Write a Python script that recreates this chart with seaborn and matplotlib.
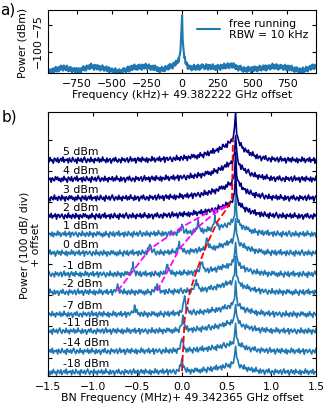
import numpy as np
import pandas as pd
import matplotlib
matplotlib.use("Agg")
import matplotlib.pyplot as plt
import seaborn as sns

# ----------------------------
# Data
# ----------------------------
# hand-read jitter pattern of the noise floor (relative units)
noise = [0.3, -0.5, 0.8, -0.2, 0.1, -0.9, 0.6, 0.2, -0.4, 0.7, -0.7, 0.0, 0.5, -0.3, 0.9, -0.6, 0.2, -0.1, 0.4, -0.8,
         0.6, -0.2, -0.5, 0.8, 0.1, -0.4, 0.3, -0.9, 0.7, 0.0, -0.3, 0.5, -0.6, 0.2, 0.9, -0.1, -0.7, 0.4, 0.1, -0.5,
         0.8, -0.3, 0.2, -0.8, 0.5, 0.0, -0.2, 0.7, -0.6, 0.3, -0.4, 0.9, -0.1, 0.1, -0.7, 0.6, -0.5, 0.2, 0.4, -0.9,
         0.0, 0.5, -0.3, 0.8, -0.2, -0.6, 0.3, 0.1, -0.8, 0.7, -0.1, 0.4, -0.5, 0.2, 0.6, -0.7, 0.0, 0.9, -0.4, 0.3,
         -0.2, 0.5, -0.9, 0.1, 0.7, -0.3, 0.4, -0.6, 0.8, -0.1, 0.2, -0.5, 0.6, -0.8, 0.3, 0.0, -0.4, 0.9, -0.2, 0.5,
         -0.7, 0.1, 0.4, -0.3, 0.8, -0.6, 0.2, -0.1, 0.7, -0.9, 0.3, 0.5, -0.4, 0.0, 0.6, -0.2, -0.8, 0.4, 0.1, -0.5,
         0.9, -0.3, 0.2, -0.7, 0.5, 0.1, -0.6, 0.8, -0.2, 0.3, -0.9, 0.4, 0.0, -0.5, 0.7, -0.1, 0.6, -0.4, 0.2, -0.8]

# slow ripple of the panel a floor, read every 100 kHz from -950 to 950 (dB)
a_hills = [-3, 1, -2, 2, 0, -3, 1, 2, -1, 3, 0, 2, 1, 3, -1, 0, 2, 1, -2, 2]

# panel a: free running spectrum
a_floor = -115.0
a_noise_amp = 3.0
a_peak_level = -63.0
a_pedestal = 22.0

# panel b: injection power sweep
labels = ["5 dBm", "4 dBm", "3 dBm", "2 dBm", "1 dBm", "0 dBm",
          "-1 dBm", "-2 dBm", "-7 dBm", "-11 dBm", "-14 dBm", "-18 dBm"]
floors = [635, 574, 513, 455, 397, 336, 268, 210, 139, 85, 20, -47]
ped_h = [75, 65, 60, 55, 45, 45, 40, 40, 35, 35, 30, 30]
spike_h = [80, 80, 80, 80, 80, 70, 70, 70, 70, 60, 60, 60]
locked = [True, True, True, True, False, False, False, False, False, False, False, False]
main_freq = 0.6
sb_x = [[], [], [], [], [0.0, 0.18, 0.37], [-0.36, -0.03, 0.28], [-0.55, -0.16, 0.22],
        [-0.72, -0.28, 0.16], [-0.53, 0.03], [0.01], [0.0], [0.0]]
sb_h = [[], [], [], [], [25, 30, 35], [30, 30, 35], [30, 30, 35],
        [20, 25, 30], [25, 60], [40], [40], [40]]

# guide lines (MHz, offset dB)
mag1_x = [-0.72, -0.55, -0.36, 0.0, 0.3, 0.5]
mag1_y = [214, 278, 349, 420, 468, 487]
mag2_x = [-0.28, -0.16, -0.03, 0.18, 0.35, 0.5]
mag2_y = [214, 278, 349, 420, 461, 487]
red_x = [0.0, 0.03, 0.09, 0.17, 0.28, 0.4, 0.5, 0.56, 0.57]
red_y = [-44, 124, 214, 285, 365, 439, 478, 510, 703]

# ----------------------------
# Style
# ----------------------------
sns.set_style("ticks")
plt.rcParams.update({
    "font.family": ["DejaVu Sans"],
    "font.size": 7.8,
    "text.color": "black",
    "axes.labelcolor": "black",
    "xtick.color": "black",
    "ytick.color": "black",
    "xtick.direction": "in",
    "ytick.direction": "in",
    "xtick.top": True,
    "ytick.right": True,
    "xtick.major.size": 3,
    "ytick.major.size": 3,
    "axes.linewidth": 0.8,
    "axes.edgecolor": "black",
})

fig = plt.figure(figsize=(3.33, 4.14), dpi=100)
ax_a = fig.add_axes([0.144, 0.821, 0.805, 0.152])
ax_b = fig.add_axes([0.144, 0.089, 0.805, 0.638])

# ----------------------------
# Panel a
# ----------------------------
fa = np.arange(-955, 956, 4.0)
na = np.resize(noise, fa.size)
hills = np.interp(fa, np.arange(-950, 951, 100.0), a_hills)
pa = (a_floor + hills + a_noise_amp * na
      + a_pedestal * np.exp(-np.abs(fa) / 18.0)
      + (a_peak_level - a_floor - a_pedestal) * np.exp(-np.abs(fa) / 5.0))
df_a = pd.DataFrame({"f": fa, "p": pa})
sns.lineplot(data=df_a, x="f", y="p", ax=ax_a, color="#1f77b4", lw=1.5,
             label="free running\nRBW = 10 kHz", estimator=None)
ax_a.set_xlim(-955, 955)
ax_a.set_ylim(-119, -62)
ax_a.set_xticks([-750, -500, -250, 0, 250, 500, 750])
ax_a.set_yticks([-100, -75])
ax_a.set_yticklabels(["\u2212100", "\u221275"], rotation=90, va="center")
ax_a.set_xlabel("Frequency (kHz)+ 49.382222 GHz offset", labelpad=1)
ax_a.set_ylabel("Power (dBm)")
ax_a.yaxis.set_label_coords(-0.075, 0.5)
ax_a.legend(loc="upper right", frameon=False, handlelength=2.2, fontsize=7.8,
            borderaxespad=0.3)

# ----------------------------
# Panel b
# ----------------------------
grid = np.round(np.arange(-1.5, 1.5001, 0.012), 4)
for i in reversed(range(len(labels))):
    fx = np.union1d(grid, np.array(sb_x[i] + [main_freq]))
    nb = np.resize(np.roll(noise, 13 * i), fx.size)
    dx = fx - main_freq
    w = np.where(dx < 0, 0.25, 0.13)
    y = (floors[i] + 11.0 * nb
         + ped_h[i] * np.exp(-np.abs(dx) / w)
         + spike_h[i] * np.exp(-np.abs(dx) / 0.01))
    for sx, sh in zip(sb_x[i], sb_h[i]):
        y = y + sh * np.exp(-np.abs(fx - sx) / 0.018)
    color = "#000080" if locked[i] else "#1f77b4"
    df_b = pd.DataFrame({"f": fx, "p": y})
    sns.lineplot(data=df_b, x="f", y="p", ax=ax_b, color=color, lw=1.2,
                 estimator=None, zorder=2)
    ax_b.text(-1.33, floors[i] + 14, labels[i], ha="left", va="bottom",
              fontsize=7.8, zorder=4)

ax_b.plot(mag1_x, mag1_y, color="magenta", ls="--", lw=1.3, zorder=3)
ax_b.plot(mag2_x, mag2_y, color="magenta", ls="--", lw=1.3, zorder=3)
ax_b.plot(red_x, red_y, color="red", ls="--", lw=1.3, zorder=3)

ax_b.set_xlim(-1.5, 1.5)
ax_b.set_ylim(-60, 790)
ax_b.set_xticks([-1.5, -1.0, -0.5, 0.0, 0.5, 1.0, 1.5])
ax_b.set_yticks(np.arange(0, 701, 100))
ax_b.set_yticklabels([])
ax_b.set_xlabel("BN Frequency (MHz)+ 49.342365 GHz offset", labelpad=1)
ax_b.set_ylabel("Power (100 dB/ div)\n+ offset")
ax_b.yaxis.set_label_coords(-0.025, 0.5)

fig.text(0.0, 0.995, "a)", fontsize=11, va="top", ha="left")
fig.text(0.005, 0.735, "b)", fontsize=11, va="top", ha="left")

fig.savefig("out.png", dpi=100)
